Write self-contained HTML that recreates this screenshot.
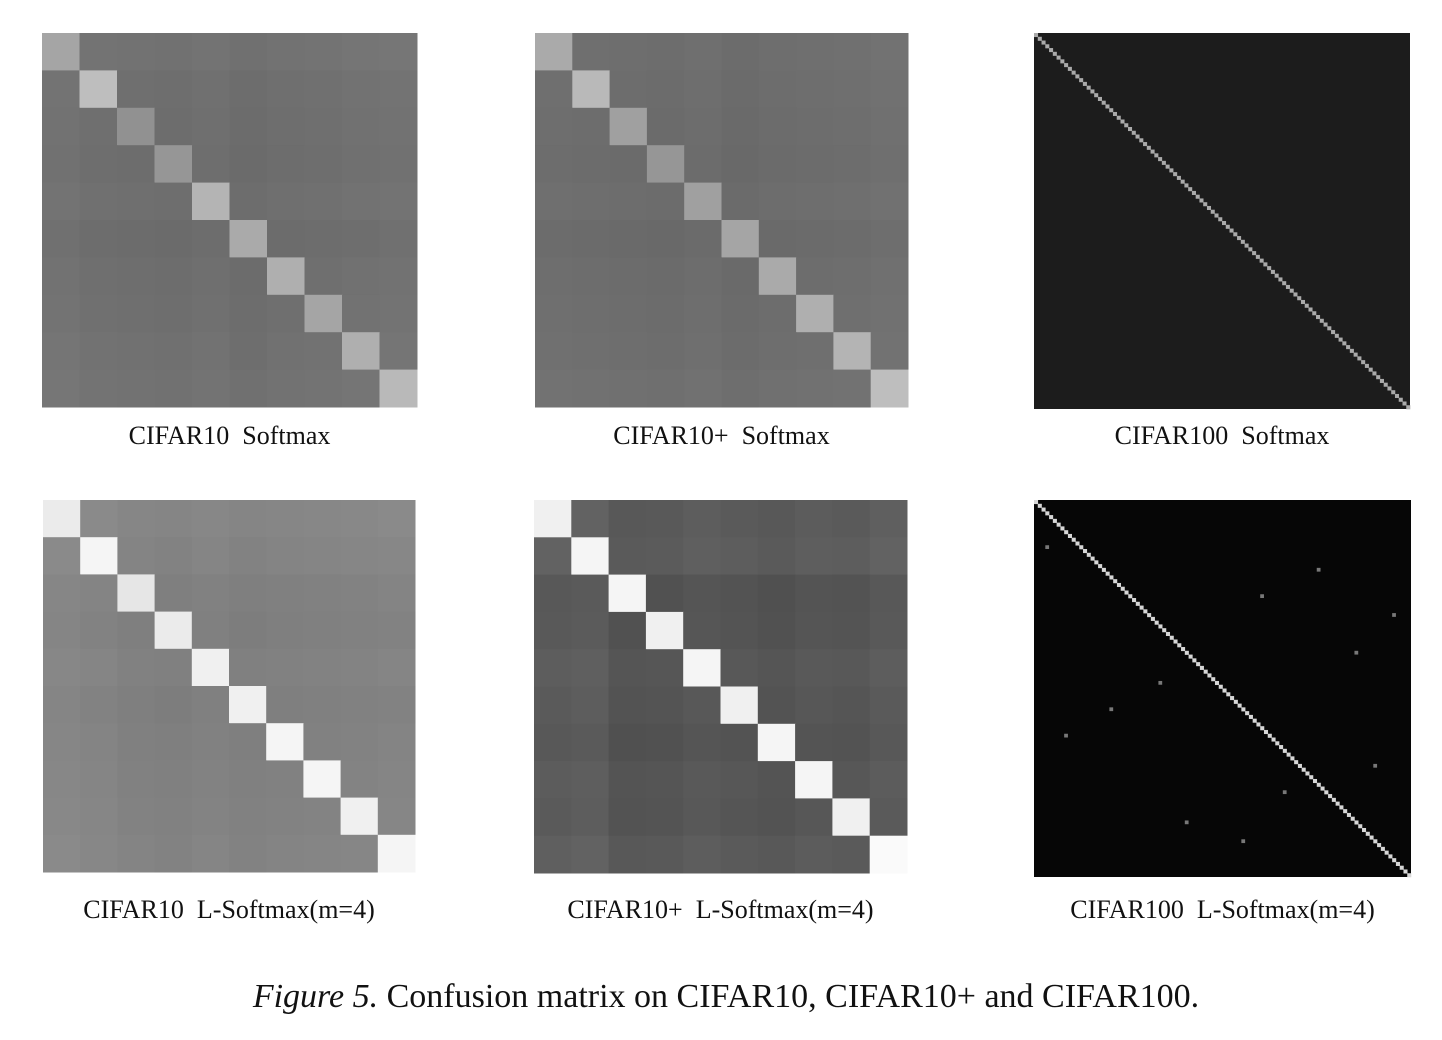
<!DOCTYPE html>
<html><head><meta charset="utf-8"><style>
body{margin:0;background:#fff;width:1442px;height:1040px;overflow:hidden;position:relative;font-family:"Liberation Serif",serif;}
.cap{position:absolute;font-size:26px;color:#111;white-space:pre;text-align:center;}
svg{position:absolute;left:0;top:0;}
</style></head><body>
<svg id="fig" width="1442" height="1040"></svg>
<div class="cap" style="left:42px;width:375px;top:421px">CIFAR10  Softmax</div>
<div class="cap" style="left:535px;width:373px;top:421px">CIFAR10+  Softmax</div>
<div class="cap" style="left:1034px;width:376px;top:421px">CIFAR100  Softmax</div>
<div class="cap" style="left:43px;width:372px;top:895px">CIFAR10  L-Softmax(m=4)</div>
<div class="cap" style="left:534px;width:373px;top:895px">CIFAR10+  L-Softmax(m=4)</div>
<div class="cap" style="left:1034px;width:377px;top:895px">CIFAR100  L-Softmax(m=4)</div>
<div class="cap" style="left:0;width:1452px;top:978px;font-size:34px"><i>Figure 5.</i> Confusion matrix on CIFAR10, CIFAR10+ and CIFAR100.</div>
<script>
// grey levels (0-255) per class
const p1Diag=[165,190,145,150,180,170,175,165,175,185];
const p1Off=[118,112,110,108,112,105,110,112,115,118];
const p2Diag=[170,185,160,150,160,165,170,175,180,190];
const p2Off=[112,110,108,106,110,104,108,110,112,116];
const p4Diag=[235,245,230,235,240,240,245,245,240,245];
const p4Off=[140,135,128,125,130,125,128,130,132,135];
const p5Diag=[240,245,245,240,245,240,245,245,240,250];
const p5Off=[95,100,80,82,90,85,80,88,85,95];
const p3Bg=28, p3Diag=170, p6Bg=6, p6Diag=215;
const p6Specks=[[12,3],[25,60],[40,85],[55,20],[70,90],[85,40],[30,95],[62,8],[18,75],[90,55],[48,33],[77,66]];
const NS="http://www.w3.org/2000/svg";
const svg=document.getElementById('fig');
function g(v){return 'rgb('+v+','+v+','+v+')';}
function rect(x,y,w,h,v,name){const r=document.createElementNS(NS,'rect');
r.setAttribute('x',x);r.setAttribute('y',y);r.setAttribute('width',w);r.setAttribute('height',h);r.setAttribute('fill',g(v));


svg.appendChild(r);}
function mat10(x0,y0,w,h,diag,off,name){const n=diag.length,cw=w/n,ch=h/n;
for(let i=0;i<n;i++)for(let j=0;j<n;j++){const v=i===j?diag[i]:Math.round((off[i]+off[j])/2);
rect(x0+j*cw,y0+i*ch,cw+0.5,ch+0.5,v,name+'-cell');}}
function mat100(x0,y0,w,h,bg,dv,specks,name){rect(x0,y0,w,h,bg,name+'-background');
const n=100,cw=w/n,ch=h/n;
for(let i=0;i<n;i++)rect(x0+i*cw,y0+i*ch,cw+0.3,ch+0.3,dv,name+'-diag-cell');
specks.forEach(s=>rect(x0+s[1]*cw,y0+s[0]*ch,cw,ch,120,name+'-speck'));}
mat10(42,33,375,374,p1Diag,p1Off,'cifar10-softmax');
mat10(535,33,373,374,p2Diag,p2Off,'cifar10plus-softmax');
mat100(1034,33,376,376,p3Bg,p3Diag,[],'cifar100-softmax');
mat10(43,500,372,372,p4Diag,p4Off,'cifar10-lsoftmax');
mat10(534,500,373,373,p5Diag,p5Off,'cifar10plus-lsoftmax');
mat100(1034,500,377,377,p6Bg,p6Diag,p6Specks,'cifar100-lsoftmax');
</script>
</body></html>
